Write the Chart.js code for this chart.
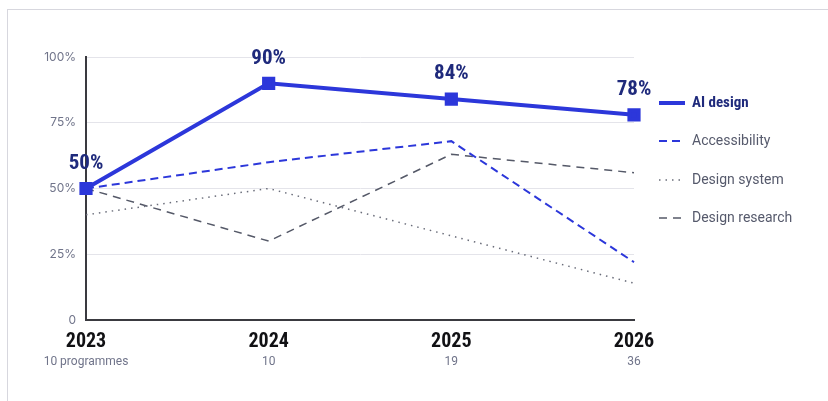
<!DOCTYPE html>
<html>
<head>
<meta charset="utf-8">
<script src="https://cdn.jsdelivr.net/npm/chart.js"></script>
<style>
  html, body { margin: 0; padding: 0; background: #fff; overflow: hidden; }
  .card {
    position: absolute; left: 7px; top: 9px; width: 900px; height: 500px;
    border-top: 1px solid #d7d7de; border-left: 1px solid #d7d7de;
  }
  .wrap { position: absolute; left: 0; top: 0; width: 828px; height: 401px; }
</style>
</head>
<body>
<div class="card"></div>
<div class="wrap"><canvas id="chart" width="828" height="401"></canvas></div>
<script>
const years = ['2023', '2024', '2025', '2026'];
const programmes = ['10 programmes', '10', '19', '36'];
const aiDesign = [50, 90, 84, 78];
const accessibility = [50, 60, 68, 22];
const designSystem = [40, 50, 32, 14];
const designResearch = [50, 30, 63, 56];
const yTicks = [0, 25, 50, 75, 100];

const BLUE = '#2c37da';
const NAVY = '#1f2a7c';
const GREY = '#565a6c';
const CONDENSED = "'Roboto Condensed', 'DejaVu Sans Condensed', sans-serif";
const REGULAR = "'Roboto', 'Noto Sans', sans-serif";

Chart.defaults.font.family = REGULAR;

// percentage labels above the AI design points
const valueLabels = {
  id: 'valueLabels',
  afterDatasetsDraw(chart) {
    const ctx = chart.ctx;
    const meta = chart.getDatasetMeta(0);
    ctx.save();
    ctx.font = 'bold 21px ' + CONDENSED;
    ctx.fillStyle = NAVY;
    ctx.textAlign = 'center';
    ctx.textBaseline = 'middle';
    meta.data.forEach((pt, i) => {
      ctx.fillText(aiDesign[i] + '%', pt.x, pt.y - 25);
    });
    ctx.restore();
  }
};

// legend drawn on the right, using each dataset's own line style
const sideLegend = {
  id: 'sideLegend',
  afterDraw(chart) {
    const ctx = chart.ctx;
    const x0 = 659, x1 = 685, tx = 692;
    const ys = [103, 141, 180, 218];
    ctx.save();
    chart.data.datasets.forEach((ds, i) => {
      const y = ys[i];
      ctx.beginPath();
      ctx.setLineDash(ds.borderDash || []);
      ctx.lineWidth = ds.borderWidth;
      ctx.strokeStyle = ds.borderColor;
      ctx.moveTo(x0, y);
      ctx.lineTo(x1, y);
      ctx.stroke();
      ctx.setLineDash([]);
      ctx.textBaseline = 'middle';
      ctx.textAlign = 'left';
      if (i === 0) {
        ctx.font = 'bold 15px ' + CONDENSED;
        ctx.fillStyle = NAVY;
      } else {
        ctx.font = '14px ' + REGULAR;
        ctx.fillStyle = GREY;
      }
      ctx.fillText(ds.label, tx, y);
    });
    ctx.restore();
  }
};

new Chart(document.getElementById('chart'), {
  type: 'line',
  data: {
    labels: years,
    datasets: [
      {
        label: 'AI design',
        data: aiDesign,
        borderColor: BLUE,
        backgroundColor: BLUE,
        borderWidth: 4,
        pointStyle: 'rect',
        pointRadius: 6.5,
        pointHoverRadius: 6.5,
        borderDash: [],
        order: 0
      },
      {
        label: 'Accessibility',
        data: accessibility,
        borderColor: BLUE,
        borderWidth: 2,
        borderDash: [8, 5],
        pointRadius: 0,
        order: 1
      },
      {
        label: 'Design system',
        data: designSystem,
        borderColor: '#6a6d7a',
        borderWidth: 1.5,
        borderDash: [1.5, 5],
        pointRadius: 0,
        order: 2
      },
      {
        label: 'Design research',
        data: designResearch,
        borderColor: '#555968',
        borderWidth: 1.5,
        borderDash: [8, 6],
        pointRadius: 0,
        order: 3
      }
    ]
  },
  options: {
    responsive: false,
    animation: false,
    events: [],
    layout: { padding: { left: 0, right: 194, top: 57, bottom: 0 } },
    plugins: {
      legend: { display: false },
      tooltip: { enabled: false }
    },
    scales: {
      x: {
        type: 'category',
        offset: false,
        grid: { display: false, drawTicks: false },
        border: { display: true, color: '#3a3a40', width: 2 },
        ticks: {
          autoSkip: false,
          maxRotation: 0,
          padding: 10,
          color: '#111114',
          font: { family: CONDENSED, size: 20, weight: 'bold' }
        },
        afterFit(s) { s.height = 35; }
      },
      x2: {
        type: 'category',
        position: 'bottom',
        labels: programmes,
        offset: false,
        grid: { display: false, drawTicks: false },
        border: { display: false },
        ticks: {
          autoSkip: false,
          maxRotation: 0,
          padding: 0,
          color: '#70748a',
          font: { family: REGULAR, size: 12 }
        },
        afterFit(s) { s.height = 46; }
      },
      y: {
        min: 0,
        max: 100,
        afterBuildTicks(s) { s.ticks = yTicks.map(v => ({ value: v })); },
        grid: { color: '#e4e4ea', lineWidth: 1, drawTicks: false },
        border: { display: true, color: '#3a3a40', width: 2 },
        ticks: {
          padding: 10,
          color: '#70748a',
          font: { family: "'Inter', sans-serif", size: 12 },
          callback: v => (v === 0 ? '0' : v + '%')
        },
        afterFit(s) { s.width = 86; }
      }
    }
  },
  plugins: [valueLabels, sideLegend]
});
</script>
</body>
</html>
